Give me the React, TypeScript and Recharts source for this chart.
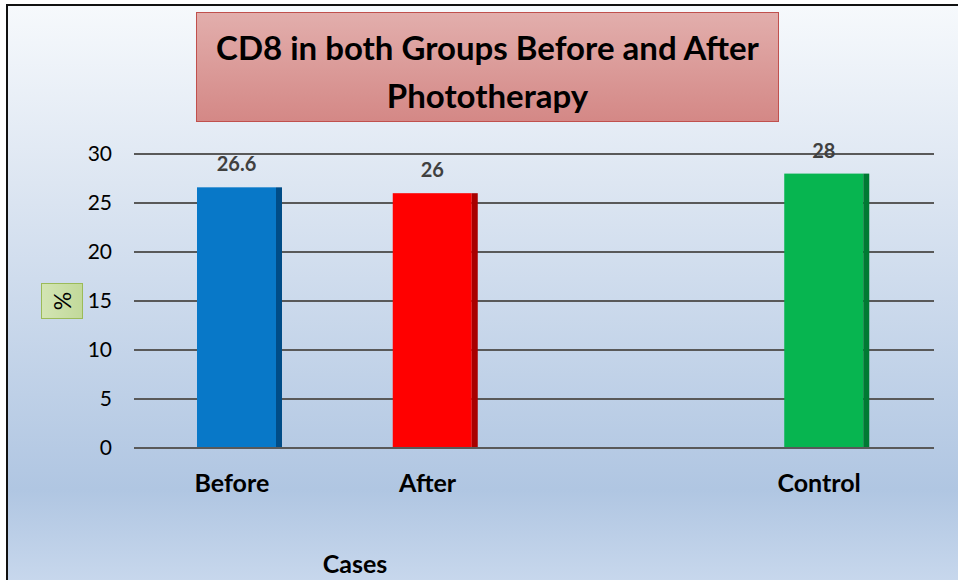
import React from 'react';
import { BarChart, Bar, XAxis, YAxis, CartesianGrid, Cell, LabelList } from 'recharts';

const categories = ['Before', 'After', '', 'Control'];
const values: (number | null)[] = [26.6, 26, null, 28];
const faceColors = ['#0878c8', '#ff0000', '#ffffff', '#07b550'];
const sideColors = ['#004c87', '#a80000', '#ffffff', '#007a33'];
const yTicks = [0, 5, 10, 15, 20, 25, 30];
const titleLines = ['CD8 in both Groups Before and After', 'Phototherapy'];
const xTitle = 'Cases';
const yTitle = '%';

const data = categories.map((c, i) => ({ name: c, value: values[i], idx: i }));

const FONT = 'Lato, "Open Sans", sans-serif';

const Bar3D = (props: any) => {
  const { x, y, width, height, payload } = props;
  if (payload == null || payload.value == null || !height) return null;
  const i = payload.idx;
  const side = 6;
  return (
    <g>
      <rect x={x} y={y} width={width - side} height={height} fill={faceColors[i]} />
      <rect x={x + width - side} y={y} width={side} height={height} fill={sideColors[i]} />
    </g>
  );
};

const ValueLabel = (props: any) => {
  const { x, y, width, value } = props;
  if (value == null) return null;
  return (
    <text x={x + width / 2 - 3} y={y - 16} textAnchor="middle" fill="#404040"
      fontFamily={FONT} fontWeight={700} fontSize={20}>
      {value}
    </text>
  );
};

export default function App() {
  return (
    <div style={{ position: 'absolute', left: 0, top: 0, width: 958, height: 580, background: '#ffffff', overflow: 'hidden', fontFamily: FONT }}>
      <div style={{
        position: 'absolute', left: 6, top: 4, width: 960, height: 590,
        borderLeft: '2px solid #111', borderTop: '2px solid #111',
        background: 'linear-gradient(to bottom, #f6f9fc 0%, #dde6f2 30%, #b0c6e2 82%, #cbdaee 100%)'
      }} />
      <div style={{
        position: 'absolute', left: 196, top: 12, width: 581, height: 108,
        border: '1.5px solid #c0504d',
        background: 'linear-gradient(to bottom, #e2aeac 0%, #d48886 100%)',
        display: 'flex', flexDirection: 'column', alignItems: 'center', justifyContent: 'center',
        boxSizing: 'content-box', paddingTop: 0,
        fontWeight: 700, fontSize: 33, lineHeight: '48px', color: '#000'
      }}>
        {titleLines.map((t) => <div key={t} style={{ position: 'relative', top: 4 }}>{t}</div>)}
      </div>
      <div style={{
        position: 'absolute', left: 41, top: 283, width: 40, height: 34,
        border: '1.5px solid #9bbb59',
        background: 'linear-gradient(to right, #d3e5b4, #c2d99a)',
        display: 'flex', alignItems: 'center', justifyContent: 'center'
      }}>
        <div style={{ transform: 'rotate(-90deg)', fontSize: 23, color: '#000' }}>{yTitle}</div>
      </div>
      <div style={{ position: 'absolute', left: 0, top: 0 }}>
        <BarChart width={958} height={580} data={data}
          margin={{ top: 154, right: 24, bottom: 92, left: 74 }} barSize={85}>
          <CartesianGrid vertical={false} horizontal={true} stroke="#595959" strokeWidth={2} />
          <XAxis dataKey="name" axisLine={{ stroke: '#595959', strokeWidth: 2 }} tickLine={false}
            padding={{ left: 8, right: 9 }} height={40} tickMargin={20} interval={0}
            tick={{ fill: '#000', fontFamily: FONT, fontWeight: 700, fontSize: 25, dx: -8 }} />
          <YAxis domain={[0, 30]} ticks={yTicks} width={60} axisLine={false} tickLine={false}
            tickMargin={16} interval={0}
            tick={{ fill: '#000', fontFamily: FONT, fontSize: 21 }} />
          <Bar dataKey="value" isAnimationActive={false} shape={<Bar3D />}>
            {data.map((d, i) => <Cell key={i} fill={faceColors[i]} />)}
            <LabelList dataKey="value" content={<ValueLabel />} />
          </Bar>
        </BarChart>
      </div>
      <div style={{ position: 'absolute', left: 300, top: 548, width: 110, textAlign: 'center', fontWeight: 700, fontSize: 25, color: '#000' }}>
        {xTitle}
      </div>
    </div>
  );
}
